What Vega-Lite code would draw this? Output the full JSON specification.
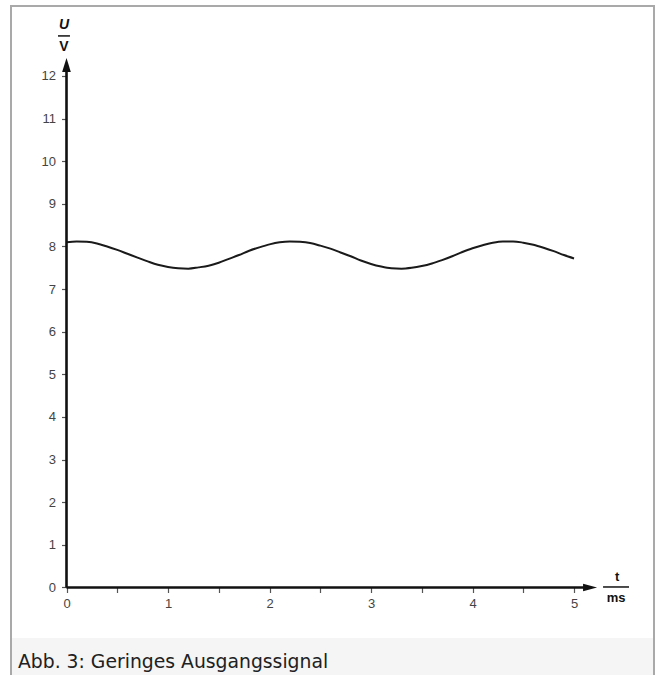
{
  "$schema": "https://vega.github.io/schema/vega-lite/v6.json",
  "autosize": "none",
  "padding": {"left": 11, "top": 6, "right": 2, "bottom": 0},
  "width": 643,
  "height": 669,
  "background": "white",
  "config": {"view": {"stroke": null}},
  "datasets": {
    "signal": [
      {"t": 0.0, "U": 8.10}, {"t": 0.1, "U": 8.12}, {"t": 0.2, "U": 8.11}, {"t": 0.3, "U": 8.07},
      {"t": 0.4, "U": 8.00}, {"t": 0.5, "U": 7.92}, {"t": 0.6, "U": 7.83}, {"t": 0.7, "U": 7.74},
      {"t": 0.8, "U": 7.65}, {"t": 0.9, "U": 7.57}, {"t": 1.0, "U": 7.52}, {"t": 1.1, "U": 7.49},
      {"t": 1.2, "U": 7.48}, {"t": 1.3, "U": 7.51}, {"t": 1.4, "U": 7.55}, {"t": 1.5, "U": 7.62},
      {"t": 1.6, "U": 7.71}, {"t": 1.7, "U": 7.80}, {"t": 1.8, "U": 7.90}, {"t": 1.9, "U": 7.98},
      {"t": 2.0, "U": 8.05}, {"t": 2.1, "U": 8.10}, {"t": 2.2, "U": 8.12}, {"t": 2.3, "U": 8.11},
      {"t": 2.4, "U": 8.08}, {"t": 2.5, "U": 8.02}, {"t": 2.6, "U": 7.95}, {"t": 2.7, "U": 7.86},
      {"t": 2.8, "U": 7.77}, {"t": 2.9, "U": 7.67}, {"t": 3.0, "U": 7.59}, {"t": 3.1, "U": 7.53},
      {"t": 3.2, "U": 7.49}, {"t": 3.3, "U": 7.48}, {"t": 3.4, "U": 7.50}, {"t": 3.5, "U": 7.54},
      {"t": 3.6, "U": 7.60}, {"t": 3.7, "U": 7.68}, {"t": 3.8, "U": 7.77}, {"t": 3.9, "U": 7.87},
      {"t": 4.0, "U": 7.96}, {"t": 4.1, "U": 8.03}, {"t": 4.2, "U": 8.09}, {"t": 4.3, "U": 8.12},
      {"t": 4.4, "U": 8.12}, {"t": 4.5, "U": 8.09}, {"t": 4.6, "U": 8.04}, {"t": 4.7, "U": 7.97},
      {"t": 4.8, "U": 7.89}, {"t": 4.9, "U": 7.80}, {"t": 5.0, "U": 7.72}
    ],
    "one": [{}]
  },
  "layer": [
    {
      "data": {"name": "one"},
      "mark": {"type": "rect", "fill": "#f5f5f5"},
      "encoding": {
        "x": {"datum": -0.5468, "type": "quantitative", "scale": {"domain": [-0.5468, 5.788], "nice": false, "zero": false}},
        "x2": {"datum": 5.788},
        "y": {"datum": -1.185, "type": "quantitative", "scale": {"domain": [-2.053, 13.642], "nice": false, "zero": false}},
        "y2": {"datum": -2.3}
      }
    },
    {
      "data": {"name": "one"},
      "mark": {"type": "rect", "fill": null, "filled": false, "stroke": "#a9a9a9", "strokeWidth": 2},
      "encoding": {
        "x": {"datum": -0.5468, "type": "quantitative"},
        "x2": {"datum": 5.788},
        "y": {"datum": 13.642, "type": "quantitative"},
        "y2": {"datum": -2.3}
      }
    },
    {
      "data": {"name": "signal"},
      "mark": {"type": "line", "color": "#1a1a1a", "strokeWidth": 2, "interpolate": "monotone"},
      "encoding": {
        "x": {
          "field": "t", "type": "quantitative",
          "axis": {
            "orient": "bottom", "offset": -87.5, "domain": false, "grid": false, "title": null,
            "values": [0, 0.5, 1, 1.5, 2, 2.5, 3, 3.5, 4, 4.5, 5],
            "labelExpr": "datum.value % 1 === 0 ? format(datum.value, 'd') : ''",
            "tickSize": 5, "tickColor": "#555555", "tickWidth": 1.2,
            "labelFont": "Liberation Sans", "labelFontSize": 13, "labelColor": "#444444",
            "labelPadding": 5, "labelFlush": false, "labelOverlap": false
          }
        },
        "y": {
          "field": "U", "type": "quantitative",
          "axis": {
            "orient": "left", "offset": -55.5, "domain": false, "grid": false, "title": null,
            "values": [0, 1, 2, 3, 4, 5, 6, 7, 8, 9, 10, 11, 12],
            "format": "d",
            "tickSize": 5, "tickColor": "#555555", "tickWidth": 1.2,
            "labelFont": "Liberation Sans", "labelFontSize": 13, "labelColor": "#444444",
            "labelPadding": 6, "labelFlush": false, "labelOverlap": false
          }
        }
      }
    },
    {
      "data": {"name": "one"},
      "mark": {"type": "rule", "color": "#111111", "strokeWidth": 2.6},
      "encoding": {
        "x": {"datum": 0, "type": "quantitative"},
        "y": {"datum": 0, "type": "quantitative"},
        "y2": {"datum": 12.2}
      }
    },
    {
      "data": {"name": "one"},
      "mark": {"type": "rule", "color": "#111111", "strokeWidth": 2.6},
      "encoding": {
        "x": {"datum": 0, "type": "quantitative"},
        "x2": {"datum": 5.12},
        "y": {"datum": 0, "type": "quantitative"}
      }
    },
    {
      "data": {"name": "one"},
      "mark": {"type": "point", "filled": true, "color": "#111111", "opacity": 1, "shape": "M0,-1L0.62,1L-0.62,1Z", "size": 196},
      "encoding": {
        "x": {"datum": 0, "type": "quantitative"},
        "y": {"datum": 12.255, "type": "quantitative"}
      }
    },
    {
      "data": {"name": "one"},
      "mark": {"type": "point", "filled": true, "color": "#111111", "opacity": 1, "shape": "M1,0L-1,-0.55L-1,0.55Z", "size": 196},
      "encoding": {
        "x": {"datum": 5.158, "type": "quantitative"},
        "y": {"datum": 0, "type": "quantitative"}
      }
    },
    {
      "data": {"name": "one"},
      "mark": {"type": "text", "text": "U", "font": "Liberation Sans", "fontSize": 14, "fontWeight": "bold", "fontStyle": "italic", "color": "#111111", "align": "center", "baseline": "middle"},
      "encoding": {
        "x": {"datum": -0.025, "type": "quantitative"},
        "y": {"datum": 13.197, "type": "quantitative"}
      }
    },
    {
      "data": {"name": "one"},
      "mark": {"type": "rule", "color": "#111111", "strokeWidth": 1.5},
      "encoding": {
        "x": {"datum": -0.084, "type": "quantitative"},
        "x2": {"datum": 0.034},
        "y": {"datum": 12.94, "type": "quantitative"}
      }
    },
    {
      "data": {"name": "one"},
      "mark": {"type": "text", "text": "V", "font": "Liberation Sans", "fontSize": 14, "fontWeight": "bold", "color": "#111111", "align": "center", "baseline": "middle"},
      "encoding": {
        "x": {"datum": -0.025, "type": "quantitative"},
        "y": {"datum": 12.68, "type": "quantitative"}
      }
    },
    {
      "data": {"name": "one"},
      "mark": {"type": "text", "text": "t", "font": "Liberation Sans", "fontSize": 13, "fontWeight": "bold", "color": "#111111", "align": "center", "baseline": "middle"},
      "encoding": {
        "x": {"datum": 5.424, "type": "quantitative"},
        "y": {"datum": 0.246, "type": "quantitative"}
      }
    },
    {
      "data": {"name": "one"},
      "mark": {"type": "rule", "color": "#111111", "strokeWidth": 1.5},
      "encoding": {
        "x": {"datum": 5.286, "type": "quantitative"},
        "x2": {"datum": 5.542},
        "y": {"datum": 0.012, "type": "quantitative"}
      }
    },
    {
      "data": {"name": "one"},
      "mark": {"type": "text", "text": "ms", "font": "Liberation Sans", "fontSize": 13, "fontWeight": "bold", "color": "#111111", "align": "center", "baseline": "middle"},
      "encoding": {
        "x": {"datum": 5.414, "type": "quantitative"},
        "y": {"datum": -0.246, "type": "quantitative"}
      }
    },
    {
      "data": {"name": "one"},
      "mark": {"type": "text", "text": "Abb. 3: Geringes Ausgangssignal", "font": "DejaVu Sans", "fontSize": 18.8, "color": "#202122", "align": "left", "baseline": "alphabetic"},
      "encoding": {
        "x": {"datum": -0.478, "type": "quantitative"},
        "y": {"datum": -1.88, "type": "quantitative"}
      }
    }
  ]
}
